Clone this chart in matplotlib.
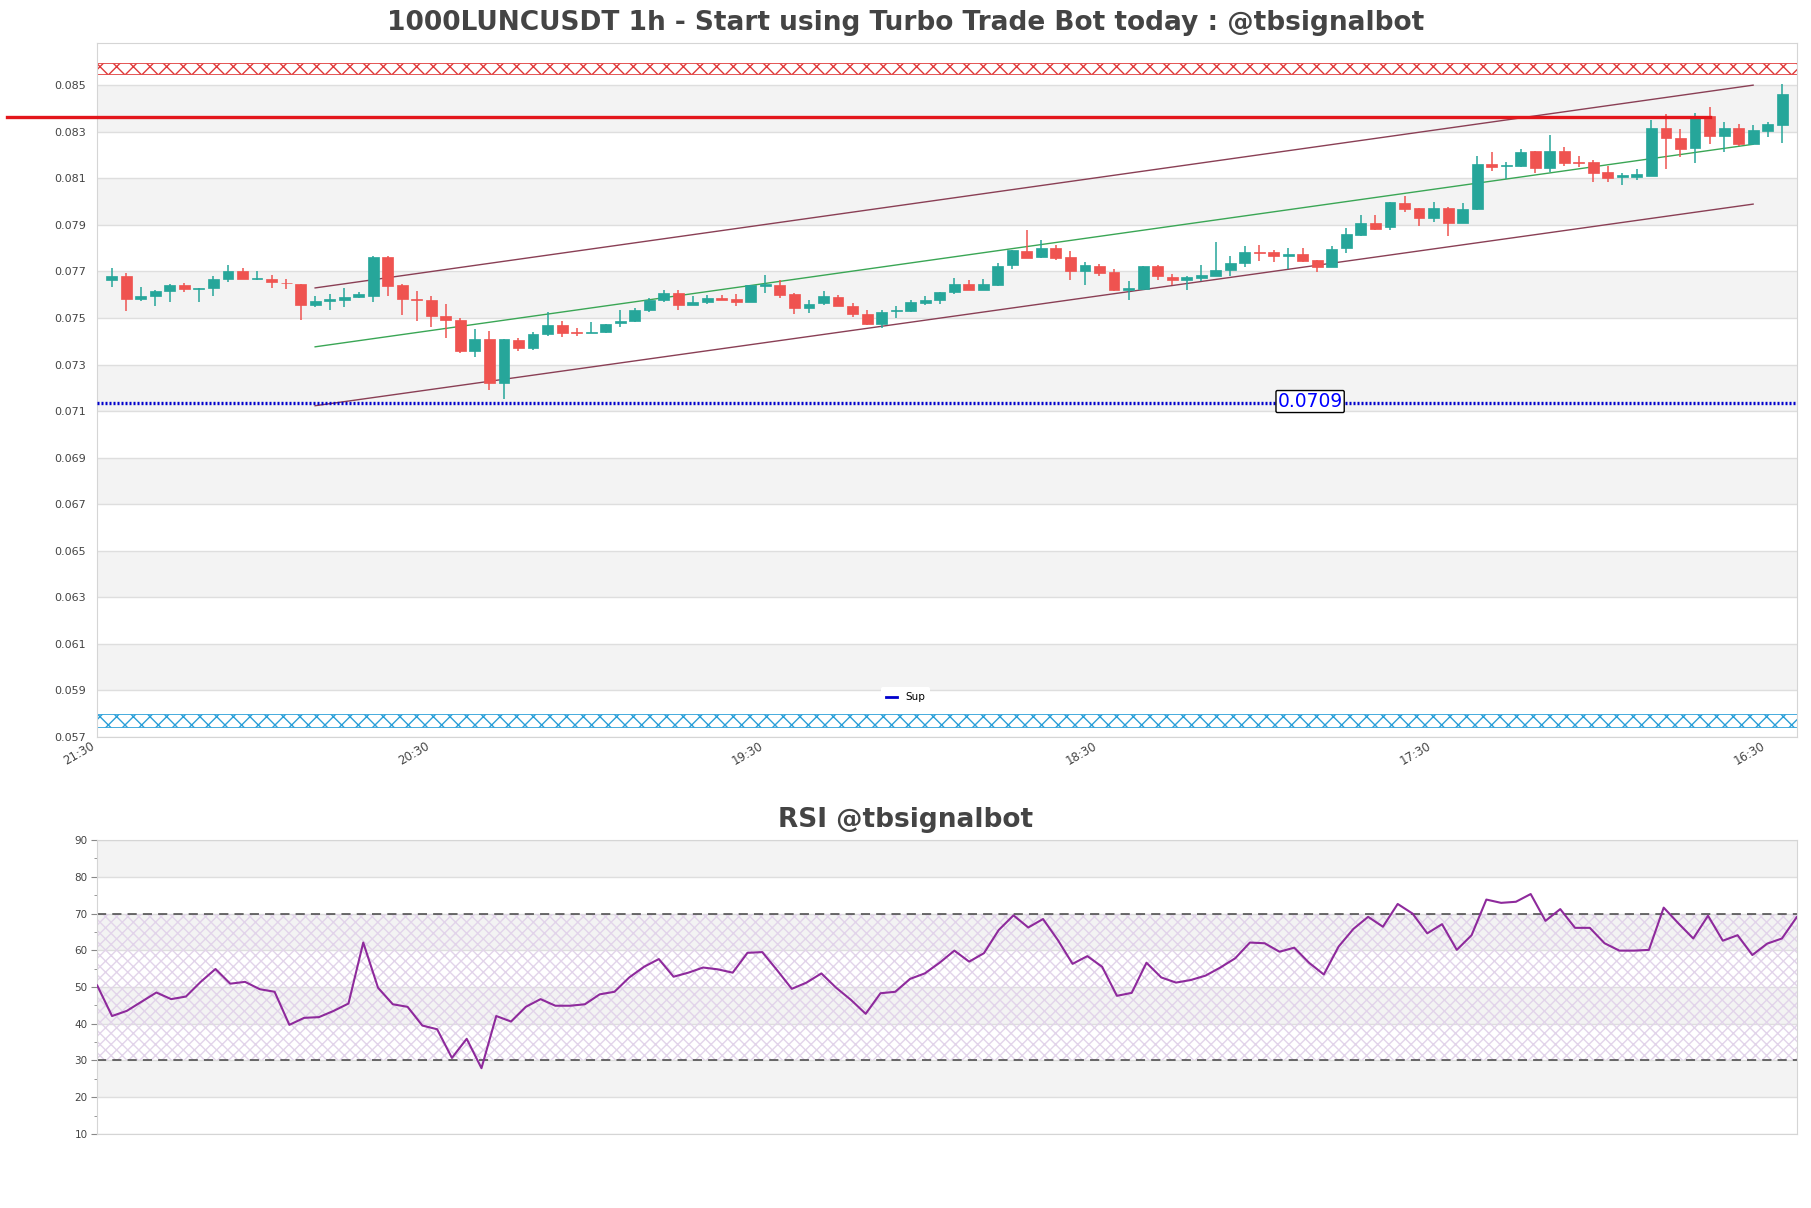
import matplotlib
matplotlib.use("Agg")
import matplotlib.pyplot as plt
from matplotlib.lines import Line2D
import numpy as np

# ---- data ----
opens = [0.07661, 0.07680, 0.07580, 0.07593, 0.07614, 0.07641, 0.07624, 0.07627, 0.07666, 0.07703,
         0.07666, 0.07669, 0.07651, 0.07647, 0.07557, 0.07571, 0.07576, 0.07589, 0.07596, 0.07763,
         0.07643, 0.07580, 0.07579, 0.07510, 0.07493, 0.07357, 0.07411, 0.07220, 0.07407, 0.07369,
         0.07430, 0.07471, 0.07439, 0.07436, 0.07439, 0.07479, 0.07486, 0.07533, 0.07576, 0.07607,
         0.07554, 0.07567, 0.07586, 0.07581, 0.07570, 0.07637, 0.07643, 0.07604, 0.07543, 0.07563,
         0.07590, 0.07553, 0.07519, 0.07473, 0.07529, 0.07529, 0.07564, 0.07579, 0.07610, 0.07647,
         0.07621, 0.07643, 0.07726, 0.07787, 0.07760, 0.07801, 0.07763, 0.07700, 0.07724, 0.07699,
         0.07619, 0.07626, 0.07724, 0.07677, 0.07661, 0.07670, 0.07681, 0.07707, 0.07734, 0.07784,
         0.07784, 0.07764, 0.07776, 0.07749, 0.07721, 0.07800, 0.07857, 0.07909, 0.07889, 0.07993,
         0.07973, 0.07931, 0.07973, 0.07910, 0.07967, 0.08161, 0.08153, 0.08153, 0.08217, 0.08146,
         0.08217, 0.08170, 0.08168, 0.08127, 0.08107, 0.08107, 0.08110, 0.08314, 0.08273, 0.08231,
         0.08367, 0.08283, 0.08314, 0.08247, 0.08304, 0.08328]
closes = [0.07680, 0.07580, 0.07596, 0.07617, 0.07641, 0.07623, 0.07630, 0.07669, 0.07703, 0.07666,
          0.07673, 0.07653, 0.07649, 0.07557, 0.07574, 0.07580, 0.07591, 0.07603, 0.07763, 0.07639,
          0.07580, 0.07577, 0.07507, 0.07490, 0.07357, 0.07411, 0.07220, 0.07411, 0.07370, 0.07433,
          0.07471, 0.07436, 0.07436, 0.07441, 0.07476, 0.07489, 0.07534, 0.07579, 0.07607, 0.07554,
          0.07570, 0.07586, 0.07579, 0.07570, 0.07640, 0.07646, 0.07597, 0.07543, 0.07561, 0.07594,
          0.07550, 0.07516, 0.07474, 0.07526, 0.07536, 0.07567, 0.07579, 0.07613, 0.07647, 0.07621,
          0.07647, 0.07724, 0.07790, 0.07759, 0.07801, 0.07756, 0.07700, 0.07729, 0.07691, 0.07619,
          0.07630, 0.07724, 0.07679, 0.07661, 0.07674, 0.07686, 0.07707, 0.07738, 0.07784, 0.07779,
          0.07764, 0.07776, 0.07743, 0.07721, 0.07796, 0.07860, 0.07909, 0.07883, 0.07996, 0.07970,
          0.07931, 0.07973, 0.07910, 0.07967, 0.08161, 0.08150, 0.08159, 0.08213, 0.08146, 0.08217,
          0.08167, 0.08164, 0.08124, 0.08103, 0.08113, 0.08117, 0.08318, 0.08274, 0.08227, 0.08367,
          0.08283, 0.08314, 0.08247, 0.08306, 0.08331, 0.08464]
highs = [0.07714, 0.07691, 0.07633, 0.07619, 0.07644, 0.07650, 0.07630, 0.07680, 0.07727, 0.07713,
         0.07703, 0.07684, 0.07669, 0.07647, 0.07596, 0.07603, 0.07629, 0.07613, 0.07767, 0.07767,
         0.07647, 0.07617, 0.07596, 0.07561, 0.07500, 0.07453, 0.07446, 0.07411, 0.07416, 0.07441,
         0.07526, 0.07489, 0.07457, 0.07482, 0.07476, 0.07534, 0.07543, 0.07586, 0.07621, 0.07619,
         0.07593, 0.07600, 0.07600, 0.07604, 0.07643, 0.07684, 0.07664, 0.07609, 0.07576, 0.07616,
         0.07599, 0.07564, 0.07533, 0.07534, 0.07550, 0.07576, 0.07596, 0.07613, 0.07670, 0.07664,
         0.07669, 0.07736, 0.07790, 0.07879, 0.07836, 0.07813, 0.07787, 0.07741, 0.07731, 0.07711,
         0.07659, 0.07724, 0.07729, 0.07689, 0.07681, 0.07729, 0.07827, 0.07764, 0.07809, 0.07814,
         0.07793, 0.07800, 0.07800, 0.07749, 0.07807, 0.07886, 0.07943, 0.07943, 0.07996, 0.08024,
         0.07973, 0.07999, 0.07976, 0.07993, 0.08196, 0.08213, 0.08170, 0.08226, 0.08217, 0.08286,
         0.08236, 0.08194, 0.08179, 0.08153, 0.08124, 0.08138, 0.08350, 0.08376, 0.08313, 0.08379,
         0.08407, 0.08340, 0.08331, 0.08327, 0.08340, 0.08504]
lows = [0.07633, 0.07529, 0.07571, 0.07553, 0.07567, 0.07610, 0.07567, 0.07593, 0.07653, 0.07666,
        0.07663, 0.07627, 0.07623, 0.07490, 0.07546, 0.07536, 0.07546, 0.07584, 0.07567, 0.07596,
        0.07511, 0.07486, 0.07460, 0.07413, 0.07350, 0.07332, 0.07190, 0.07153, 0.07360, 0.07364,
        0.07423, 0.07417, 0.07421, 0.07436, 0.07436, 0.07461, 0.07482, 0.07524, 0.07570, 0.07536,
        0.07554, 0.07559, 0.07576, 0.07550, 0.07569, 0.07607, 0.07584, 0.07516, 0.07521, 0.07557,
        0.07550, 0.07503, 0.07471, 0.07457, 0.07500, 0.07524, 0.07556, 0.07561, 0.07601, 0.07618,
        0.07621, 0.07639, 0.07710, 0.07756, 0.07759, 0.07747, 0.07664, 0.07643, 0.07679, 0.07614,
        0.07579, 0.07621, 0.07664, 0.07640, 0.07621, 0.07657, 0.07679, 0.07681, 0.07721, 0.07743,
        0.07739, 0.07711, 0.07740, 0.07696, 0.07717, 0.07781, 0.07850, 0.07876, 0.07876, 0.07957,
        0.07897, 0.07914, 0.07850, 0.07910, 0.07964, 0.08133, 0.08096, 0.08150, 0.08124, 0.08128,
        0.08154, 0.08150, 0.08086, 0.08086, 0.08069, 0.08093, 0.08110, 0.08138, 0.08190, 0.08164,
        0.08247, 0.08211, 0.08238, 0.08247, 0.08276, 0.08253]

rsi = [50.4, 42.1, 43.5, 46.0, 48.5, 46.7, 47.4, 51.4, 54.9, 50.9,
       51.4, 49.4, 48.7, 39.7, 41.6, 41.8, 43.5, 45.5, 62.1, 49.8,
       45.3, 44.6, 39.5, 38.5, 30.7, 35.9, 27.9, 42.1, 40.6, 44.6,
       46.7, 44.9, 44.9, 45.3, 48.0, 48.7, 52.6, 55.5, 57.6, 52.8,
       53.9, 55.3, 54.8, 53.9, 59.3, 59.5, 54.6, 49.5, 51.2, 53.7,
       49.8, 46.5, 42.7, 48.3, 48.7, 52.2, 53.7, 56.6, 59.9, 56.9,
       59.2, 65.5, 69.5, 66.2, 68.5, 62.8, 56.3, 58.4, 55.5, 47.6,
       48.4, 56.6, 52.6, 51.2, 51.9, 53.1, 55.3, 57.8, 62.1, 61.9,
       59.6, 60.7, 56.6, 53.4, 61.0, 65.8, 69.1, 66.4, 72.6, 70.0,
       64.6, 67.1, 60.1, 64.1, 73.8, 72.9, 73.2, 75.3, 68.0, 71.2,
       66.1, 66.1, 61.9, 59.9, 59.9, 60.1, 71.6, 67.3, 63.2, 69.4,
       62.6, 64.1, 58.7, 61.8, 63.2, 69.0]

tick_labels = ["21:30", "20:30", "19:30", "18:30", "17:30", "16:30"]
price_ticks = [0.057, 0.059, 0.061, 0.063, 0.065, 0.067, 0.069, 0.071,
               0.073, 0.075, 0.077, 0.079, 0.081, 0.083, 0.085]

channel_x = [14, 113]
channel_upper = [0.07629, 0.08500]
channel_mid = [0.07376, 0.08246]
channel_lower = [0.07123, 0.07989]

resistance = 0.08363
resistance_end = 110
support = 0.07136
support_text = "0.0709"
res_zone = (0.08547, 0.08595)
sup_zone = (0.05745, 0.05799)

title = "1000LUNCUSDT 1h - Start using Turbo Trade Bot today : @tbsignalbot"
rsi_title = "RSI @tbsignalbot"

# ---- figure ----
GREEN = "#26a69a"
RED = "#ef5350"
BAND = "#f3f3f3"
GRID = "#dedede"
TXT = "#444444"

plt.rcParams["hatch.linewidth"] = 1.0
fig = plt.figure(figsize=(18.11, 12.08), dpi=100)
ax = fig.add_axes([0.0537, 0.3899, 0.9384, 0.5743])
ax2 = fig.add_axes([0.0537, 0.0613, 0.9384, 0.2433])

n = len(opens)
x = np.arange(n)
o = np.array(opens)
c = np.array(closes)
h = np.array(highs)
l = np.array(lows)
cols = np.where(c >= o, GREEN, RED)

# background bands
for i in range(len(price_ticks) - 1):
    if i % 2 == 1:
        ax.axhspan(price_ticks[i], price_ticks[i + 1], color=BAND, zorder=0, lw=0)
for t in price_ticks:
    ax.axhline(t, color=GRID, lw=1, zorder=0.5)

# hatched zones
ax.axhspan(*res_zone, facecolor="none", edgecolor="#e03a3a", hatch="xx", lw=0.6, zorder=1)
ax.axhspan(*sup_zone, facecolor="none", edgecolor="#2a9fd8", hatch="xx", lw=0.6, zorder=1)

# candles
ax.vlines(x, l, h, color=cols, lw=1.1, zorder=3)
body_bottom = np.minimum(o, c)
body_h = np.maximum(np.abs(c - o), 0.00002)
ax.bar(x, body_h, bottom=body_bottom, width=0.75, color=cols, edgecolor=cols, lw=0.5, zorder=4)

# channel
ax.plot(channel_x, channel_upper, color="#8a3f55", lw=1.0, zorder=2)
ax.plot(channel_x, channel_mid, color="#3aa655", lw=1.0, zorder=2)
ax.plot(channel_x, channel_lower, color="#8a3f55", lw=1.0, zorder=2)

# resistance line (runs past the left edge of the axes)
ax.plot([-7.2, resistance_end], [resistance, resistance], color="#e3161b", lw=2.4,
        zorder=5, clip_on=False)

# support line
ax.plot([-1, n], [support, support], color="#0000cc", lw=2.4,
        ls=(0, (0.6, 0.6)), zorder=5)
ax.text(82.5, support + 0.00005, support_text, color="#0000ff", fontsize=13.5,
        ha="center", va="center", zorder=6,
        bbox=dict(boxstyle="round,pad=0.08", fc="white", ec="black", lw=1))

ax.set_xlim(-1, n)
ax.set_ylim(0.057, 0.0868)
ax.set_yticks(price_ticks)
ax.set_yticklabels([f"{t:.3f}" for t in price_ticks])
ax.set_xticks(np.arange(len(tick_labels)) * 23 - 1)
ax.set_xticklabels(tick_labels, rotation=30, ha="right")
ax.tick_params(axis="y", length=0, labelsize=8, labelcolor=TXT, pad=8)
ax.tick_params(axis="x", length=0, labelsize=8.5, labelcolor=TXT, pad=2)
for s in ax.spines.values():
    s.set_color("#d5d5d5")

sup_handle = Line2D([], [], color="#0000cc", lw=2)
fig.legend(handles=[sup_handle], labels=["Sup"], loc="lower center",
           bbox_to_anchor=(0.5, 0.41), fontsize=7.5, frameon=True, edgecolor="none",
           handlelength=1.0, framealpha=1, borderpad=0.5)

fig.text(0.5, 1 - 23 / 1208, title, ha="center", va="center", fontsize=19,
         fontweight="bold", color=TXT)

# ---- RSI ----
rsi_levels = [10, 20, 30, 40, 50, 60, 70, 80, 90]
for i in range(len(rsi_levels) - 1):
    if i % 2 == 1:
        ax2.axhspan(rsi_levels[i], rsi_levels[i + 1], color=BAND, zorder=0, lw=0)
for t in rsi_levels:
    ax2.axhline(t, color=GRID, lw=1, zorder=0.5)
ax2.axhspan(30, 70, facecolor="none", edgecolor="#e2d4ea", hatch="xxx", lw=0, zorder=1)
ax2.axhline(70, color="#444444", lw=1.1, ls=(0, (6, 4)), zorder=2)
ax2.axhline(30, color="#444444", lw=1.1, ls=(0, (6, 4)), zorder=2)
ax2.plot(np.arange(len(rsi)), rsi, color="#8e2a9c", lw=1.5, zorder=3)

ax2.set_xlim(0, len(rsi) - 1)
ax2.set_ylim(10, 90)
ax2.set_yticks(rsi_levels)
ax2.set_yticks(np.arange(15, 90, 10), minor=True)
ax2.set_xticks([])
ax2.tick_params(axis="y", which="major", length=4, labelsize=7.5, labelcolor=TXT,
                color="#888888", pad=3)
ax2.tick_params(axis="y", which="minor", length=2.5, color="#888888")
for s in ax2.spines.values():
    s.set_color("#d5d5d5")

fig.text(0.5, 1 - 820 / 1208, rsi_title, ha="center", va="center", fontsize=19,
         fontweight="bold", color=TXT)

fig.savefig("out.png", dpi=100)
